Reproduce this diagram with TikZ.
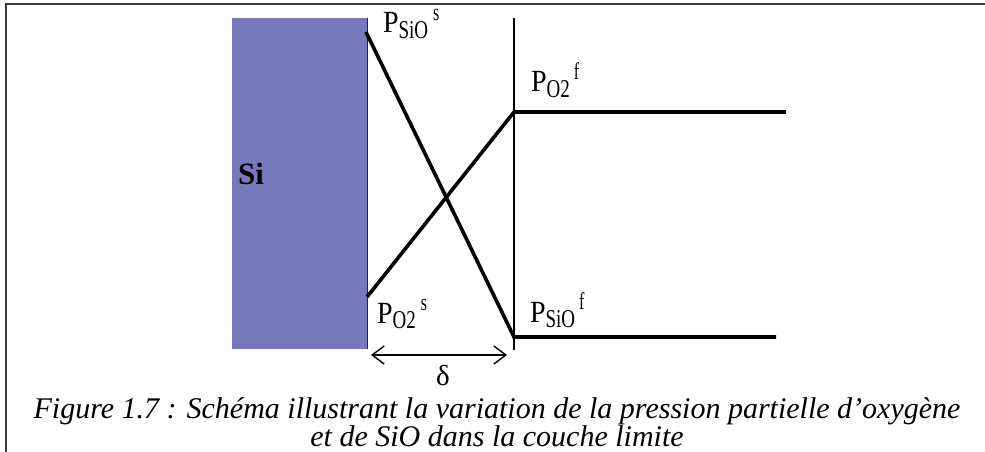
\documentclass[tikz,border=0pt]{standalone}
\usepackage{fontspec}
\setmainfont{Liberation Serif}
\usetikzlibrary{arrows.meta}
\definecolor{siblue}{RGB}{118,121,187}
\definecolor{frameg}{RGB}{60,60,60}
\newcommand{\plab}[3]{\scalebox{1}[1.1]{\fontsize{28}{28}\selectfont P}\raisebox{-5.5pt}{\scalebox{1}[1.35]{\fontsize{19}{19}\selectfont #1}}\hspace{#3}\raisebox{13pt}{\scalebox{1}[1.5]{\fontsize{16}{16}\selectfont #2}}}
\begin{document}
\begin{tikzpicture}[x=1pt,y=-1pt,
  thickline/.style={line width=3.6pt,black,line join=miter},
  lab/.style={anchor=base west,inner sep=0pt,outer sep=0pt},
  capt/.style={anchor=base,inner sep=0pt,font=\fontsize{30}{30}\selectfont\itshape}]
\useasboundingbox (0,0) rectangle (985,452);
\fill[white] (0,0) rectangle (985,452);
% frame
\draw[frameg,line width=2pt] (6,452) -- (6,4) -- (985,4);
% Si block
\node[fill=siblue,draw=none,minimum width=135pt,minimum height=331pt,inner sep=0pt,anchor=north west] (si) at (232,18) {};
\draw[black!85,line width=1.8pt] (si.north east) -- (si.south east);
\node[anchor=base west,inner sep=0pt,font=\fontsize{31}{31}\selectfont\bfseries] (silab) at (238,184) {Si};
% boundary layer limit
\coordinate (vtop) at (514,18);
\coordinate (vbot) at (514,350);
\draw[black,line width=1.2pt] (vtop) -- (vbot);
% curves
\coordinate (siotop) at (366,32);
\coordinate (siobend) at (514,337);
\coordinate (sioend) at (776,337);
\coordinate (o2bot) at (367,297);
\coordinate (o2bend) at (514,112);
\coordinate (o2end) at (786,112);
\draw[thickline] (siotop) -- (siobend) -- (sioend);
\draw[thickline] (o2bot) -- (o2bend) -- (o2end);
% labels
\node[lab] (psios) at (383,33) {\plab{SiO}{s}{5pt}};
\node[lab] (po2f) at (531,92) {\plab{O2}{f}{4pt}};
\node[lab] (po2s) at (377,323) {\plab{O2}{s}{5pt}};
\node[lab] (psiof) at (530,322) {\plab{SiO}{f}{4pt}};
% delta arrow
\coordinate (da) at (371,355);
\coordinate (db) at (507,355);
\draw[line width=1.4pt,{Straight Barb[length=12pt,width=18pt,line width=1.4pt]}-{Straight Barb[length=12pt,width=18pt,line width=1.4pt]}] (da) -- (db);
\node[anchor=base,inner sep=0pt,font=\fontsize{29}{29}\selectfont] (delta) at (443,385) {δ};
% caption
\node[capt] (cap1) at (497,418) {Figure 1.7 : Schéma illustrant la variation de la pression partielle d’oxygène};
\node[capt] (cap2) at (497,446) {et de SiO dans la couche limite};
\end{tikzpicture}
\end{document}
